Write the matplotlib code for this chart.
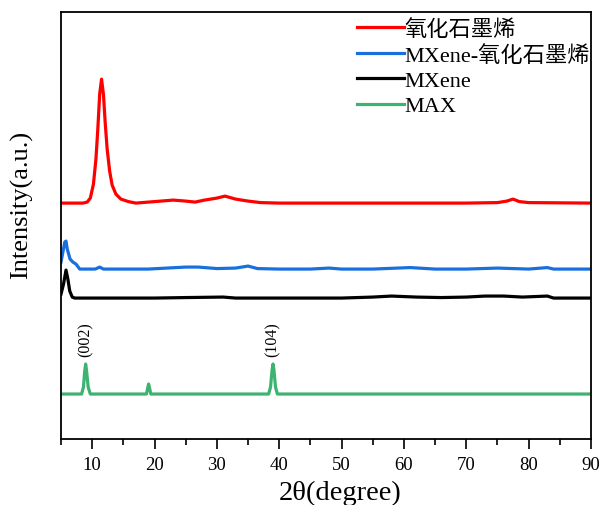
import matplotlib.pyplot as plt
from matplotlib.ticker import MultipleLocator

plt.rcParams['font.family'] = ['Liberation Serif', 'Noto Sans CJK SC']

# 2theta / intensity (arbitrary units)
red_x = [5, 8.5, 9.2, 9.7, 10.2, 10.6, 10.9, 11.2, 11.5, 11.8, 12.1, 12.4, 12.8, 13.2, 13.8, 14.6,
         15.8, 17, 19, 21, 23, 25, 26.5, 28, 30, 31.3, 33, 35, 37, 40, 50, 60, 70, 75, 76.5, 77.5,
         78.5, 80, 90]
red_y = [236, 236, 237, 241, 255, 280, 310, 345, 360, 345, 315, 290, 268, 254, 245, 240,
         237.5, 236, 237, 238, 239, 238, 237, 239, 241, 243, 240, 238, 236.5, 236, 236, 236, 236, 236.5, 238, 240,
         237.5, 236.5, 236]

blue_x = [5, 5.3, 5.6, 5.8, 6.0, 6.45, 6.9, 7.4, 8.0, 10.5, 11.2, 11.8, 15, 19, 22, 25, 27, 30, 33,
          35, 36.5, 40, 45, 48, 50, 55, 61, 65, 70, 75, 80, 83, 84, 90]
blue_y = [177, 187, 197, 198, 190, 180, 177, 175, 170, 170, 172, 170, 170, 170, 171, 172, 172, 170.5, 171,
          173, 170.5, 170, 170, 171, 170, 170, 171.5, 170, 170, 171, 170, 171.5, 170, 170]

black_x = [5, 5.4, 5.8, 6.1, 6.4, 6.8, 7.2, 20, 25, 31, 33, 40, 50, 55, 58, 60, 62, 66, 70, 73, 76,
           79, 83, 84, 90]
black_y = [145, 155, 169, 160, 148, 142, 141, 141, 141.5, 142, 141, 141, 141, 142, 143, 142.5, 142, 141.5, 142, 143, 143,
           142, 143, 141, 141]

green_x = [5, 8.3, 8.6, 8.8, 8.95, 9.1, 9.35, 9.7, 18.7, 18.9, 19.05, 19.2, 19.4, 38.3, 38.6, 38.85,
           39.0, 39.15, 39.4, 39.7, 90]
green_y = [45, 45, 52, 68, 75, 68, 52, 45, 45, 51, 55, 51, 45, 45, 52, 69,
           75, 69, 52, 45, 45]

labels = ['氧化石墨烯', 'MXene-氧化石墨烯', 'MXene', 'MAX']
colors = ['#ff0000', '#1a6fdf', '#000000', '#3cb371']
peaks = [('(002)', 8.95), ('(104)', 39.0)]

fig = plt.figure(figsize=(6, 5.06), dpi=100)
ax = fig.add_axes([0.1017, 0.1304, 0.8833, 0.8436])

for (x, y), lab, c in zip([(red_x, red_y), (blue_x, blue_y), (black_x, black_y), (green_x, green_y)],
                          labels, colors):
    ax.plot(x, y, color=c, lw=2.3, label=lab)

for txt, xp in peaks:
    ax.text(xp, 83, txt, rotation=90, ha='center', va='bottom', fontsize=11.5)

ax.set_xlim(5, 90)
ax.set_ylim(0, 427)
ax.xaxis.set_major_locator(MultipleLocator(10))
ax.xaxis.set_minor_locator(MultipleLocator(5))
ax.tick_params(axis='x', which='major', direction='out', length=7, width=1.2, labelsize=13.5, pad=5)
ax.tick_params(axis='x', which='minor', direction='out', length=4, width=1.2)
ax.set_yticks([])
for s in ax.spines.values():
    s.set_linewidth(1.3)

ax.set_xlabel('2θ(degree)', fontsize=20.5)
ax.set_ylabel('Intensity(a.u.)', fontsize=19)
ax.xaxis.set_label_coords(0.526, -0.095)
ax.yaxis.set_label_coords(-0.053, 0.55)

ax.legend(loc='upper right', bbox_to_anchor=(1.011, 1.0), frameon=False, fontsize=16,
          handlelength=2.1, handletextpad=0.05, labelspacing=0.22, borderaxespad=0.0, borderpad=0.3)

fig.savefig('out.png', dpi=100)
